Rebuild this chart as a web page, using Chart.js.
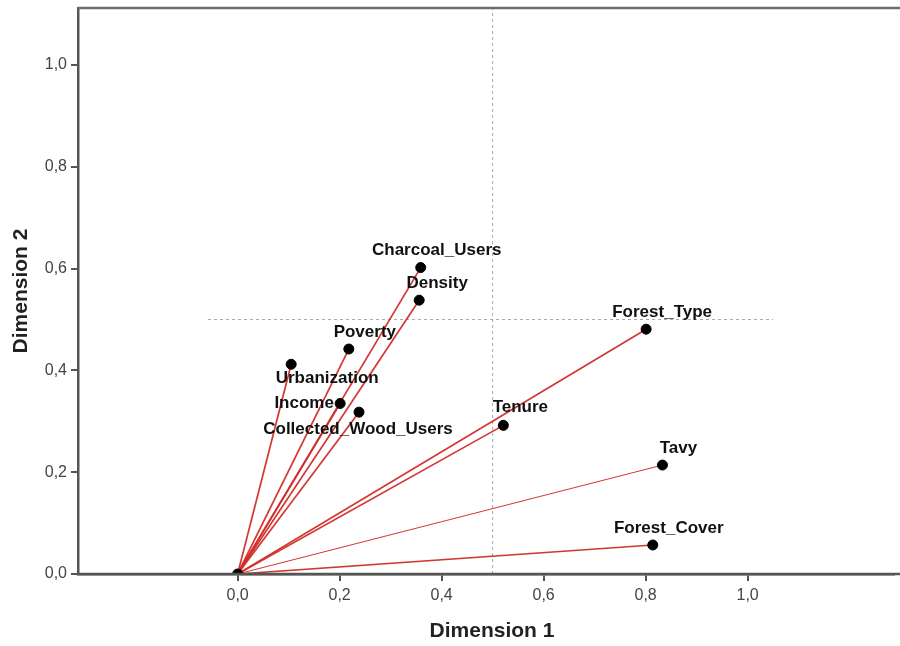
<!DOCTYPE html>
<html>
<head>
<meta charset="utf-8">
<script src="https://cdn.jsdelivr.net/npm/chart.js"></script>
<style>
  html, body { margin: 0; padding: 0; background: #fff; overflow: hidden; }
  canvas { display: block; }
</style>
</head>
<body>
<canvas id="chart" width="900" height="646"></canvas>
<script>
// component loadings (Dimension 1 / Dimension 2)
const variables = ['Charcoal_Users', 'Density', 'Poverty', 'Urbanization', 'Income',
  'Collected_Wood_Users', 'Tenure', 'Forest_Type', 'Tavy', 'Forest_Cover'];
const dim1 = [0.359, 0.356, 0.218, 0.105, 0.201, 0.238, 0.521, 0.801, 0.833, 0.814];
const dim2 = [0.602, 0.538, 0.442, 0.412, 0.335, 0.318, 0.292, 0.481, 0.214, 0.057];
const xTicks = [0, 0.2, 0.4, 0.6, 0.8, 1.0];
const yTicks = [0, 0.2, 0.4, 0.6, 0.8, 1.0];
const refX = 0.5;
const refY = 0.5;
const xTitle = 'Dimension 1';
const yTitle = 'Dimension 2';

// label placement (pixels from the point to the text centre)
const labelOffset = {
  Charcoal_Users: [16, -17], Density: [18, -17], Poverty: [16, -17],
  Urbanization: [36, 14], Income: [-36, 0], Collected_Wood_Users: [-1, 17],
  Tenure: [17, -18], Forest_Type: [16, -17], Tavy: [16, -17], Forest_Cover: [16, -17]
};
const thinLines = ['Tavy'];

const fontFamily = '"Liberation Sans", Arial, sans-serif';
const comma = v => Number(v).toFixed(1).replace('.', ',');

const vectorSets = variables.map((name, i) => ({
  label: name,
  data: [{ x: 0, y: 0 }, { x: dim1[i], y: dim2[i] }],
  showLine: true,
  borderColor: 'rgba(208,45,40,0.95)',
  borderWidth: thinLines.includes(name) ? 1 : 1.7,
  pointRadius: 0,
  order: 1
}));

const pointSet = {
  label: 'points',
  data: [{ x: 0, y: 0 }].concat(variables.map((n, i) => ({ x: dim1[i], y: dim2[i] }))),
  pointRadius: 5,
  pointBackgroundColor: '#000',
  pointBorderColor: '#000',
  showLine: false,
  order: 0
};

const refSets = [
  {
    label: 'refX',
    data: [{ x: refX, y: 0 }, { x: refX, y: 1.112 }],
    showLine: true, borderColor: '#a8a8a8', borderWidth: 1, borderDash: [3, 3],
    pointRadius: 0, order: 2
  },
  {
    label: 'refY',
    data: [{ x: -0.058, y: refY }, { x: 1.05, y: refY }],
    showLine: true, borderColor: '#a8a8a8', borderWidth: 1, borderDash: [3, 3],
    pointRadius: 0, order: 2
  }
];

// no automatic label padding
const noPad = s => { s.paddingLeft = 0; s.paddingRight = 0; s.paddingTop = 0; s.paddingBottom = 0; };

// point labels, x title and frame lines running to the canvas edge
const labelPlugin = {
  id: 'labels',
  afterDatasetsDraw(chart) {
    const { ctx, scales: { x, y }, chartArea } = chart;
    ctx.save();
    ctx.lineWidth = 2.5;
    ctx.strokeStyle = '#6e6e6e';
    ctx.beginPath();
    ctx.moveTo(chartArea.left, chartArea.top);
    ctx.lineTo(chart.width, chartArea.top);
    ctx.stroke();
    ctx.strokeStyle = '#555';
    ctx.beginPath();
    ctx.moveTo(chartArea.left - 1, chartArea.bottom);
    ctx.lineTo(chart.width, chartArea.bottom);
    ctx.stroke();

    ctx.font = 'bold 21px ' + fontFamily;
    ctx.fillStyle = '#222';
    ctx.textAlign = 'center';
    ctx.textBaseline = 'middle';
    ctx.fillText(xTitle, (chartArea.left + chart.width) / 2 + 3, 631);

    ctx.font = 'bold 17px ' + fontFamily;
    ctx.fillStyle = '#111';
    variables.forEach((name, i) => {
      const off = labelOffset[name];
      ctx.fillText(name, x.getPixelForValue(dim1[i]) + off[0], y.getPixelForValue(dim2[i]) + off[1]);
    });
    ctx.restore();
  }
};

new Chart(document.getElementById('chart'), {
  type: 'scatter',
  data: { datasets: [pointSet].concat(vectorSets, refSets) },
  options: {
    responsive: false,
    animation: false,
    layout: { padding: { top: 8, right: 0, bottom: 0, left: 0 } },
    plugins: {
      legend: { display: false },
      tooltip: { enabled: false }
    },
    scales: {
      x: {
        type: 'linear',
        min: -0.313,
        max: 1.287,
        afterBuildTicks: s => { s.ticks = xTicks.map(v => ({ value: v })); },
        afterFit: s => { s.height = 72; noPad(s); },
        ticks: {
          callback: v => comma(v),
          font: { family: fontFamily, size: 16 },
          color: '#444',
          padding: 5,
          maxRotation: 0
        },
        grid: { display: true, drawOnChartArea: false, drawTicks: true, tickLength: 7, color: '#555', lineWidth: 2 },
        border: { display: true, color: '#555', width: 2.5 },
        title: { display: false }
      },
      y: {
        type: 'linear',
        min: 0,
        max: 1.112,
        afterBuildTicks: s => { s.ticks = yTicks.map(v => ({ value: v })); },
        afterFit: s => { s.width = 78; noPad(s); },
        ticks: {
          callback: v => comma(v),
          font: { family: fontFamily, size: 16 },
          color: '#444',
          padding: 4
        },
        grid: { display: true, drawOnChartArea: false, drawTicks: true, tickLength: 7, color: '#555', lineWidth: 2 },
        border: { display: true, color: '#555', width: 2.5 },
        title: {
          display: true,
          text: yTitle,
          font: { family: fontFamily, size: 21, weight: 'bold' },
          color: '#222',
          padding: { top: 9, bottom: 0 }
        }
      }
    }
  },
  plugins: [labelPlugin]
});
</script>
</body>
</html>
